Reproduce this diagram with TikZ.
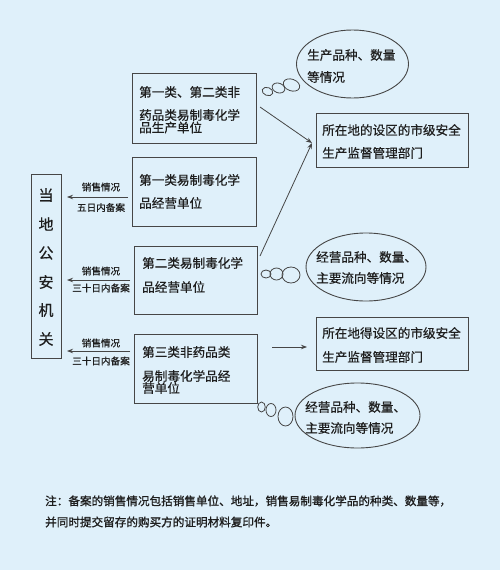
\documentclass[tikz,border=0pt]{standalone}
\usepackage{fontspec}
\setmainfont{Noto Sans CJK SC}
\newfontfamily\heavyfont[FakeBold=0.5]{Noto Sans CJK SC}
\newfontfamily\notefont[FakeBold=1.2]{Noto Sans CJK SC}
\usetikzlibrary{arrows.meta}
\definecolor{bgc}{RGB}{223,240,250}
\definecolor{linec}{RGB}{70,70,70}
\definecolor{txtc}{RGB}{30,30,30}
\begin{document}
\begin{tikzpicture}[x=1pt,y=-1pt,
  boxline/.style={draw=linec, line width=0.9pt},
  txt/.style={anchor=west, inner sep=0pt, text=txtc, font=\heavyfont\fontsize{12.6}{14}\selectfont},
  small/.style={inner sep=0pt, text=txtc, font=\heavyfont\fontsize{9.6}{11}\selectfont},
  vchar/.style={inner sep=0pt, text=txtc, font=\heavyfont\fontsize{15}{16}\selectfont},
  note/.style={anchor=west, inner sep=0pt, text=txtc, font=\notefont\fontsize{11.6}{13}\selectfont},
  bubble/.style={draw=linec, line width=0.8pt},
  arr/.style={draw=linec, line width=0.8pt, -{Stealth[length=6pt,width=4.5pt]}}
]
\fill[bgc] (0,0) rectangle (500,570);
\useasboundingbox (0,0) rectangle (500,570);

% left box
\draw[boxline] (31,174) rectangle (61,358);
\node[vchar] (g1) at (46,195) {当};
\node[vchar] (g2) at (46,224) {地};
\node[vchar] (g3) at (46,253) {公};
\node[vchar] (g4) at (46,282) {安};
\node[vchar] (g5) at (46,310) {机};
\node[vchar] (g6) at (46,339) {关};

% box A
\draw[boxline] (132,73) rectangle (256,143);
\node[txt] (a1) at (139,92) {第一类、第二类非};
\node[txt] (a2) at (139,115) {药品类易制毒化学};
\node[txt] (a3) at (139,127.5) {品生产单位};

% ellipse 1
\draw[boxline] (352.5,64) ellipse [x radius=56, y radius=34];
\node[txt] (e1a) at (307,55) {生产品种、数量};
\node[txt] (e1b) at (307,77) {等情况};
\draw[bubble, rotate around={-20:(267.5,91.5)}] (267.5,91.5) ellipse [x radius=5.5, y radius=4];
\draw[bubble, rotate around={-20:(278.5,88)}] (278.5,88) ellipse [x radius=6.5, y radius=4.8];
\draw[bubble, rotate around={-20:(291.5,85)}] (291.5,85) ellipse [x radius=8.5, y radius=5.8];

% box B
\draw[boxline] (316,113) rectangle (468,167);
\node[txt] (b1) at (322,130) {所在地的设区的市级安全};
\node[txt] (b2) at (322,153) {生产监督管理部门};

% box C
\draw[boxline] (132,157) rectangle (256,226);
\node[txt] (c1) at (139,180) {第一类易制毒化学};
\node[txt] (c2) at (139,203) {品经营单位};

% box D
\draw[boxline] (134,246) rectangle (257,314);
\node[txt] (d1) at (142,263) {第二类易制毒化学};
\node[txt] (d2) at (142,287) {品经营单位};

% ellipse 2
\draw[boxline] (366,267) ellipse [x radius=60, y radius=34];
\node[txt] (e2a) at (316,257) {经营品种、数量、};
\node[txt] (e2b) at (316,278) {主要流向等情况};
\draw[bubble] (266,274) ellipse [x radius=5, y radius=4];
\draw[bubble] (276.5,274) ellipse [x radius=6.5, y radius=6];
\draw[bubble] (291,275) ellipse [x radius=9, y radius=8];

% box E
\draw[boxline] (134,334) rectangle (257,403);
\node[txt] (f1) at (142,352) {第三类非药品类};
\node[txt] (f2) at (142,376) {易制毒化学品经};
\node[txt] (f3) at (142,388) {营单位};

% box F
\draw[boxline] (316,317) rectangle (468,370);
\node[txt] (h1) at (322,333) {所在地得设区的市级安全};
\node[txt] (h2) at (322,357) {生产监督管理部门};

% ellipse 3
\draw[boxline] (357.5,415.5) ellipse [x radius=62.5, y radius=32.5];
\node[txt] (e3a) at (305,407) {经营品种、数量、};
\node[txt] (e3b) at (305,428) {主要流向等情况};
\draw[bubble] (261.5,407) ellipse [x radius=3.8, y radius=5];
\draw[bubble] (271,410) ellipse [x radius=5, y radius=6.5];
\draw[bubble] (285.5,416.5) ellipse [x radius=7.5, y radius=9.5];

% arrows to right boxes
\coordinate (pA) at (260,107);
\coordinate (pB) at (312,143);
\coordinate (pD) at (260,256);
\coordinate (pE) at (272,347);
\coordinate (pF) at (307,347);
\draw[arr] (pA) -- (pB);
\draw[arr] (pD) -- (pB);
\draw[arr] (pE) -- (pF);

% arrows to left box
\coordinate (sC) at (128,197);
\coordinate (tC) at (67,197);
\coordinate (sD) at (130,280);
\coordinate (tD) at (67,280);
\coordinate (sE) at (130,351);
\coordinate (tE) at (67,351);
\draw[arr] (sC) -- (tC);
\draw[arr] (sD) -- (tD);
\draw[arr] (sE) -- (tE);
\node[small] (lc1) at (101,187) {销售情况};
\node[small] (lc2) at (101,207.5) {五日内备案};
\node[small] (ld1) at (101,271) {销售情况};
\node[small] (ld2) at (101,288) {三十日内备案};
\node[small] (le1) at (101,343) {销售情况};
\node[small] (le2) at (101,361) {三十日内备案};

% note
\node[note] (n1) at (45,501) {注：备案的销售情况包括销售单位、地址，销售易制毒化学品的种类、数量等，};
\node[note] (n2) at (45,522) {并同时提交留存的购买方的证明材料复印件。};
\end{tikzpicture}
\end{document}
